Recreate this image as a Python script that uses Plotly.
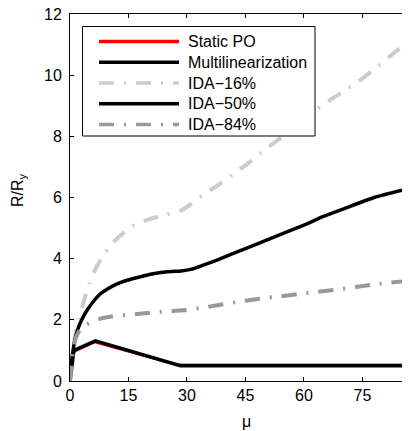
import plotly.graph_objects as go

# Static pushover
po_x = [0, 0.9, 6.3, 27.5, 87.2]
po_y = [0, 0.95, 1.27, 0.53, 0.53]

# Multilinearization
ml_x = [0, 1.0, 6.5, 28.3, 87.2]
ml_y = [0, 1.0, 1.31, 0.50, 0.50]

# IDA 16%
i16_x = [0, 0.5, 1.1, 1.7, 2.4, 3.5, 5, 6.5, 8.4, 10.5, 12.7, 16, 20, 24.7, 28.5,
         31, 34.5, 38.5, 42.6, 46.5, 50.3, 54, 58, 62, 66.5, 70.5, 75, 78.5, 81.9, 84.5, 87.2]
i16_y = [0, 0.7, 1.35, 1.7, 2.0, 2.6, 3.2, 3.65, 4.08, 4.45, 4.73, 5.06, 5.28, 5.44, 5.58,
         5.78, 6.11, 6.45, 6.83, 7.2, 7.59, 7.95, 8.35, 8.76, 9.17, 9.5, 9.89, 10.25, 10.6, 10.87, 11.08]

# IDA 50%
i50_x = [0, 0.3, 0.7, 1.2, 2.0, 3.0, 4.2, 6.0, 7.6, 9.5, 11.8, 14, 17.8, 21, 25, 28.5,
         31, 34, 38, 45, 52, 60, 65, 70, 78, 87.2]
i50_y = [0, 0.5, 0.92, 1.3, 1.69, 2.0, 2.28, 2.6, 2.83, 3.0, 3.16, 3.27, 3.4, 3.5, 3.57, 3.6,
         3.65, 3.78, 3.97, 4.33, 4.69, 5.1, 5.38, 5.62, 6.0, 6.3]

# IDA 84%
i84_x = [0, 0.55, 1.0, 1.6, 2.6, 4.2, 6.0, 8.4, 11, 14.4, 17.8, 22, 26, 29.8, 35, 43.5,
         52, 60.6, 69, 77.6, 87.2]
i84_y = [0, 0.8, 1.15, 1.45, 1.68, 1.84, 1.96, 2.06, 2.12, 2.16, 2.2, 2.25, 2.29, 2.32, 2.42, 2.6,
         2.74, 2.87, 3.0, 3.15, 3.28]

x_ticks = [0, 15, 30, 45, 60, 75]
y_ticks = [0, 2, 4, 6, 8, 10, 12]

series_names = ["Static PO", "Multilinearization", "IDA\u221216%", "IDA\u221250%", "IDA\u221284%"]

FONT = "Liberation Sans, Arial, Helvetica, sans-serif"
DASHDOT = "15px,10px,2px,10px"

styles = [
    dict(color="#ff0000", width=2.5),
    dict(color="#000000", width=3.5),
    dict(color="#cccccc", width=4, dash=DASHDOT, shape="spline", smoothing=0.6),
    dict(color="#000000", width=3.5, shape="spline", smoothing=0.6),
    dict(color="#999999", width=4, dash=DASHDOT, shape="spline", smoothing=0.6),
]
legend_styles = [
    dict(color="#ff0000", width=3.5),
    dict(color="#000000", width=3.5),
    dict(color="#cccccc", width=3.5, dash=DASHDOT),
    dict(color="#000000", width=3.5),
    dict(color="#999999", width=3.5, dash=DASHDOT),
]
xs = [po_x, ml_x, i16_x, i50_x, i84_x]
ys = [po_y, ml_y, i16_y, i50_y, i84_y]

fig = go.Figure()
for name, x, y, st in zip(series_names, xs, ys, styles):
    fig.add_trace(go.Scatter(x=x, y=y, mode="lines", name=name, line=st, showlegend=False))

# page-pixel layout of the plot area (page body has an 8px offset)
PL, PR, PT, PB = 70.0, 410.0, 14.0, 381.0
def px(x):
    return (x - PL) / (PR - PL)
def py(y):
    return (PB - y) / (PB - PT)

shapes = []
annotations = []
# legend box
shapes.append(dict(type="rect", xref="paper", yref="paper",
                   x0=px(82.5), x1=px(315), y0=py(136), y1=py(26.5),
                   line=dict(color="black", width=1), fillcolor="white", layer="above"))
row_y = [41.5, 62.3, 83.0, 103.7, 124.4]
for name, ry, ls in zip(series_names, row_y, legend_styles):
    line = dict(color=ls["color"], width=ls["width"])
    if "dash" in ls:
        line["dash"] = ls["dash"]
    shapes.append(dict(type="line", xref="paper", yref="paper",
                       x0=px(99), x1=px(179), y0=py(ry), y1=py(ry),
                       line=line, layer="above"))
    annotations.append(dict(text=name, xref="paper", yref="paper", x=px(186), y=py(ry),
                            xanchor="left", yanchor="middle", showarrow=False,
                            font=dict(family=FONT, size=16, color="black")))

# axis titles
annotations.append(dict(text="R/R<sub>y</sub>", xref="paper", yref="paper",
                        x=px(18), y=py(190), xanchor="center", yanchor="middle",
                        textangle=-90, showarrow=False,
                        font=dict(family=FONT, size=16, color="black")))
annotations.append(dict(text="\u03bc", xref="paper", yref="paper",
                        x=px(246), y=py(421), xanchor="center", yanchor="middle",
                        showarrow=False, font=dict(family=FONT, size=16, color="black")))

fig.update_layout(
    width=402, height=423,
    margin=dict(l=62, r=0, t=6, b=50, autoexpand=False),
    plot_bgcolor="white", paper_bgcolor="white",
    font=dict(family=FONT, size=16, color="black"),
    showlegend=False,
    shapes=shapes,
    annotations=annotations,
    xaxis=dict(range=[0, 87.2], tickvals=x_ticks, ticktext=[str(v) for v in x_ticks],
               ticks="inside", ticklen=4, tickcolor="black", showline=True, linecolor="black",
               linewidth=1, mirror="ticks", showgrid=False, zeroline=False, automargin=False,
               ticklabeloverflow="allow"),
    yaxis=dict(range=[0, 12], tickvals=y_ticks, ticktext=[str(v) for v in y_ticks],
               ticks="inside", ticklen=4, tickcolor="black", showline=True, linecolor="black",
               linewidth=1, mirror=False, showgrid=False, zeroline=False, automargin=False,
               ticklabelstandoff=4, ticklabeloverflow="allow"),
)

fig.write_html("out.html")
